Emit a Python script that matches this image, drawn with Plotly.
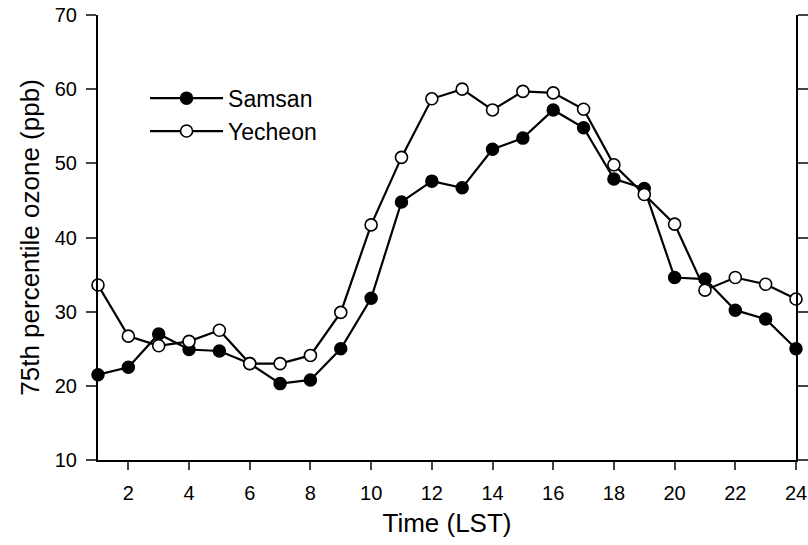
import plotly.graph_objects as go

hours = list(range(1, 25))
samsan = [21.5, 22.5, 27.0, 24.9, 24.7, 23.0, 20.3, 20.8, 25.0, 31.8, 44.8, 47.6,
          46.7, 51.9, 53.4, 57.2, 54.8, 47.9, 46.6, 34.6, 34.4, 30.2, 29.0, 25.0]
yecheon = [33.6, 26.7, 25.4, 26.0, 27.5, 23.0, 23.0, 24.1, 29.9, 41.7, 50.8, 58.7,
           60.0, 57.2, 59.7, 59.5, 57.3, 49.8, 45.8, 41.8, 32.9, 34.6, 33.7, 31.7]
x_ticks = list(range(2, 25, 2))
y_ticks = list(range(10, 71, 10))

fig = go.Figure()
fig.add_trace(go.Scatter(
    x=hours, y=samsan, name="Samsan", mode="lines+markers",
    line=dict(color="black", width=2.2),
    marker=dict(symbol="circle", size=12, color="black", line=dict(color="black", width=1.5)),
    cliponaxis=False))
fig.add_trace(go.Scatter(
    x=hours, y=yecheon, name="Yecheon", mode="lines+markers",
    line=dict(color="black", width=2.2),
    marker=dict(symbol="circle", size=12, color="white", line=dict(color="black", width=1.6)),
    cliponaxis=False))

fig.update_layout(
    width=808, height=545,
    margin=dict(l=98, r=12, t=15, b=85),
    paper_bgcolor="white", plot_bgcolor="white",
    font=dict(family="Arial, Liberation Sans, sans-serif", color="black", size=20),
    showlegend=True,
    legend=dict(x=0.0674, y=0.776, xanchor="left", yanchor="middle",
                bgcolor="rgba(0,0,0,0)", font=dict(size=23), itemwidth=73,
                tracegroupgap=0),
    xaxis=dict(range=[1, 24], tickvals=x_ticks, ticks="outside", ticklen=8, tickwidth=2,
               showline=True, linecolor="black", linewidth=2, showgrid=False, zeroline=False,
               ticklabelstandoff=6, ticklabeloverflow="allow", automargin=False,
               title=dict(text="Time (LST)", font=dict(size=26), standoff=11),
               tickfont=dict(size=20)),
    yaxis=dict(range=[10, 70], tickvals=y_ticks, ticks="outside", ticklen=10, tickwidth=2,
               showline=True, linecolor="black", linewidth=2, mirror="ticks",
               showgrid=False, zeroline=False, ticklabelstandoff=5,
               ticklabeloverflow="allow", automargin=False,
               title=dict(text="75th percentile ozone (ppb)", font=dict(size=26), standoff=8),
               tickfont=dict(size=20)),
)

fig.write_html("out.html",
               config={"displayModeBar": False},
               post_script="document.body.style.margin='0';document.body.style.overflow='hidden';")
